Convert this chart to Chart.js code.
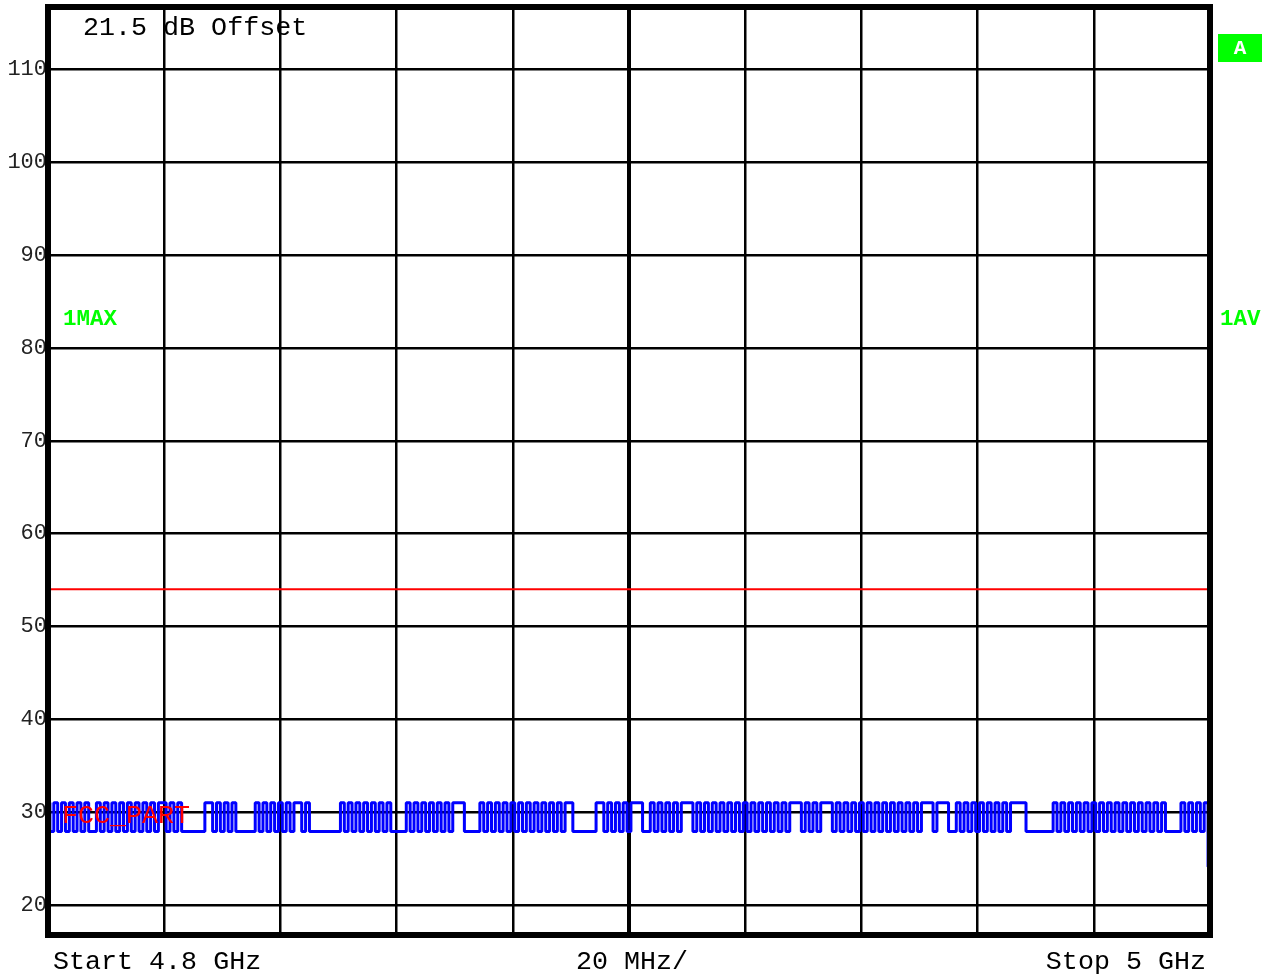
<!DOCTYPE html>
<html>
<head>
<meta charset="utf-8">
<script src="https://cdn.jsdelivr.net/npm/chart.js@4.4.1/dist/chart.umd.min.js"></script>
<style>
html, body { margin: 0; padding: 0; background: #fff; }
#wrap { width: 1270px; height: 976px; }
</style>
</head>
<body>
<div id="wrap"><canvas id="spectrum" width="1270" height="976"></canvas></div>
<script>
// sweep / screen settings
const startMHz = 4800;
const stopMHz = 5000;
const gridMHz = [4800, 4820, 4840, 4860, 4880, 4900, 4920, 4940, 4960, 4980, 5000];
const levelMin = 16.75;
const levelMax = 116.75;
const levelTicks = [20, 30, 40, 50, 60, 70, 80, 90, 100, 110];
const limitDbuv = 54; // FCC_PART line

// trace 1 (dBuV), 301 sweep points, one row per 20 MHz division
const traceDbuv = [
  31,27.9,31,27.9,31,27.9,31,27.9,31,27.9,31,27.9,27.9,31,27.9,31,27.9,31,27.9,31,27.9,31,27.9,31,27.9,31,27.9,31,27.9,31,
  31,27.9,31,27.9,31,27.9,27.9,27.9,27.9,27.9,27.9,31,31,27.9,31,27.9,31,27.9,31,27.9,27.9,27.9,27.9,27.9,31,27.9,31,27.9,31,27.9,
  31,27.9,31,27.9,31,31,27.9,31,27.9,27.9,27.9,27.9,27.9,27.9,27.9,27.9,31,27.9,31,27.9,31,27.9,31,27.9,31,27.9,31,27.9,31,27.9,
  27.9,27.9,27.9,31,27.9,31,27.9,31,27.9,31,27.9,31,27.9,31,27.9,31,31,31,27.9,27.9,27.9,27.9,31,27.9,31,27.9,31,27.9,31,27.9,
  31,27.9,31,27.9,31,27.9,31,27.9,31,27.9,31,27.9,31,27.9,31,31,27.9,27.9,27.9,27.9,27.9,27.9,31,31,27.9,31,27.9,31,27.9,31,
  27.9,31,31,31,27.9,27.9,31,27.9,31,27.9,31,27.9,31,27.9,31,31,31,27.9,31,27.9,31,27.9,31,27.9,31,27.9,31,27.9,31,27.9,
  31,27.9,31,27.9,31,27.9,31,27.9,31,27.9,31,27.9,31,31,31,27.9,31,27.9,31,27.9,31,31,31,27.9,31,27.9,31,27.9,31,27.9,
  31,27.9,31,27.9,31,27.9,31,27.9,31,27.9,31,27.9,31,27.9,31,27.9,31,31,31,27.9,31,31,31,27.9,27.9,31,27.9,31,27.9,31,
  27.9,31,27.9,31,27.9,31,27.9,31,27.9,31,31,31,31,27.9,27.9,27.9,27.9,27.9,27.9,27.9,31,27.9,31,27.9,31,27.9,31,27.9,31,27.9,
  31,27.9,31,27.9,31,27.9,31,27.9,31,27.9,31,27.9,31,27.9,31,27.9,31,27.9,31,27.9,27.9,27.9,27.9,31,27.9,31,27.9,31,27.9,31,
  24.1
];

// uniform sweep: point i sits at start + i * span / (n - 1)
const sweepMHz = traceDbuv.map((v, i) => startMHz + i * (stopMHz - startMHz) / (traceDbuv.length - 1));

const MONO = '"Liberation Mono", "DejaVu Sans Mono", monospace';
const GREEN = '#00ff00';

// frame + screen annotations
const screenText = {
  id: 'screenText',
  afterDraw(chart) {
    const ctx = chart.ctx;
    const a = chart.chartArea;
    ctx.save();

    ctx.textBaseline = 'middle';
    ctx.fillStyle = '#000';
    ctx.font = '26.7px ' + MONO;
    ctx.textAlign = 'left';
    ctx.fillText('21.5 dB Offset', 83, 28);
    ctx.fillText('Start 4.8 GHz', 53, 962);
    ctx.textAlign = 'center';
    ctx.fillText('20 MHz/', 632, 962);
    ctx.textAlign = 'right';
    ctx.fillText('Stop 5 GHz', 1206, 962);

    // limit line name
    ctx.textAlign = 'left';
    ctx.fillStyle = '#ff0000';
    ctx.fillText('FCC_PART', 62, 816);

    // trace labels
    ctx.fillStyle = GREEN;
    ctx.font = 'bold 22.5px ' + MONO;
    ctx.fillText('1MAX', 63, 319);
    ctx.fillText('1AV', 1220, 319);

    // "A" box
    ctx.fillRect(1218, 34, 44, 28);
    ctx.fillStyle = '#fff';
    ctx.font = 'bold 21px ' + MONO;
    ctx.textAlign = 'center';
    ctx.fillText('A', 1240, 49);

    // thick screen frame
    ctx.strokeStyle = '#000';
    ctx.lineWidth = 6;
    ctx.strokeRect(a.left, a.top, a.right - a.left, a.bottom - a.top);
    ctx.restore();
  }
};

const ctx = document.getElementById('spectrum').getContext('2d');
const chart = new Chart(ctx, {
  type: 'line',
  data: {
    datasets: [
      {
        label: '1MAX',
        data: sweepMHz.map((f, i) => ({ x: f, y: traceDbuv[i] })),
        borderColor: '#0000ff',
        borderWidth: 3,
        borderJoinStyle: 'bevel',
        stepped: 'middle',
        pointRadius: 0,
        fill: false
      },
      {
        label: 'FCC_PART',
        data: [{ x: startMHz, y: limitDbuv }, { x: stopMHz, y: limitDbuv }],
        borderColor: '#ff0000',
        borderWidth: 2,
        pointRadius: 0,
        fill: false
      }
    ]
  },
  options: {
    responsive: false,
    animation: false,
    layout: { padding: { left: 0, top: 7, right: 60, bottom: 41 } },
    plugins: {
      legend: { display: false },
      tooltip: { enabled: false }
    },
    scales: {
      x: {
        type: 'linear',
        min: startMHz,
        max: stopMHz,
        afterBuildTicks: s => { s.ticks = gridMHz.map(v => ({ value: v })); },
        afterFit: s => { s.height = 0; s.paddingLeft = 0; s.paddingRight = 0; },
        ticks: { display: false },
        border: { display: false },
        grid: {
          color: '#000',
          drawTicks: false,
          lineWidth: c => (c.tick && c.tick.value === 4900 ? 4 : 2.5)
        }
      },
      y: {
        min: levelMin,
        max: levelMax,
        afterBuildTicks: s => { s.ticks = levelTicks.map(v => ({ value: v })); },
        afterFit: s => { s.width = 48; s.paddingTop = 0; s.paddingBottom = 0; },
        border: { display: false },
        grid: { color: '#000', lineWidth: 2.5, drawTicks: false },
        ticks: {
          padding: 1,
          color: '#222',
          font: { family: MONO, size: 22 }
        }
      }
    }
  },
  plugins: [screenText]
});
</script>
</body>
</html>
